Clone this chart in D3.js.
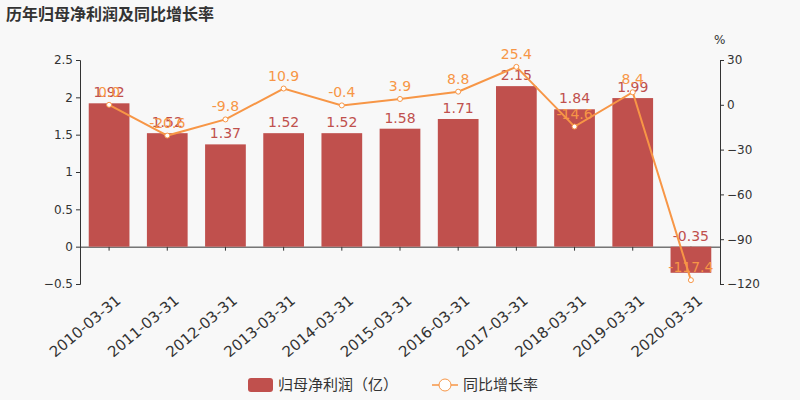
<!DOCTYPE html><html><head><meta charset="utf-8"><script src="https://cdn.jsdelivr.net/npm/d3@7"></script>
<style>body{margin:0;background:#f8f8f8}</style></head><body><svg id="c" width="800" height="400"></svg><script>
const categories=["2010-03-31","2011-03-31","2012-03-31","2013-03-31","2014-03-31","2015-03-31","2016-03-31","2017-03-31","2018-03-31","2019-03-31","2020-03-31"];
const profit=[1.92,1.52,1.37,1.52,1.52,1.58,1.71,2.15,1.84,1.99,-0.35];
const growth=[0.0,-20.6,-9.8,10.9,-0.4,3.9,8.8,25.4,-14.6,8.4,-117.4];
const leftTicks=[-0.5,0,0.5,1,1.5,2,2.5];
const rightTicks=[-120,-90,-60,-30,0,30];
const svg=d3.select("#c"),F="DejaVu Sans";
svg.append("rect").attr("width",800).attr("height",400).attr("fill","#f8f8f8");
svg.append("text").attr("x",6).attr("y",20).text("历年归母净利润及同比增长率").attr("font-family","Noto Sans CJK SC").attr("font-weight","bold").attr("font-size",16).attr("fill","#333");
const L=80,R=720,T=60,B=284;
const x=d3.scaleBand().domain(categories).range([L,R]).paddingInner(0.3).paddingOuter(0.15);
const y=d3.scaleLinear().domain([-0.5,2.5]).range([B,T]);
const y2=d3.scaleLinear().domain([-120,30]).range([B,T]);
const gl=svg.append("g").attr("transform",`translate(${L},0)`).call(d3.axisLeft(y).tickValues(leftTicks).tickFormat(d3.format("")).tickSize(4));
const gr=svg.append("g").attr("transform",`translate(${R},0)`).call(d3.axisRight(y2).tickValues(rightTicks).tickSize(4));
[gl,gr].forEach(g=>{g.selectAll("text").attr("font-family",F).attr("font-size",12).attr("fill","#333");g.selectAll("line,path").attr("stroke","#333");});
const gx=svg.append("g").attr("transform",`translate(0,${y(0)})`).call(d3.axisBottom(x).tickSize(4).tickSizeOuter(0).tickFormat(""));
gx.selectAll("line,path").attr("stroke","#333");
svg.selectAll(".xl").data(categories).enter().append("text")
 .attr("transform",d=>`translate(${x(d)+x.bandwidth()/2+6},${B+10}) rotate(-40)`)
 .attr("text-anchor","end").attr("dy","0.7em").text(d=>d).attr("font-family",F).attr("font-size",15).attr("fill","#333");
svg.append("text").attr("x",714).attr("y",44).text("%").attr("font-family",F).attr("font-size",12).attr("fill","#333");
svg.selectAll(".b").data(profit).enter().append("rect").attr("x",(d,i)=>x(categories[i])).attr("width",x.bandwidth())
 .attr("y",d=>y(Math.max(0,d))).attr("height",d=>Math.abs(y(d)-y(0))).attr("fill","#c0504d");
svg.selectAll(".bl").data(profit).enter().append("text").attr("x",(d,i)=>x(categories[i])+x.bandwidth()/2)
 .attr("y",d=>d>=0?y(d)-6:y(0)-6).attr("text-anchor","middle").text(d=>d).attr("font-family",F).attr("font-size",14).attr("fill","#c0504d");
const cx=i=>x(categories[i])+x.bandwidth()/2;
svg.append("path").datum(growth).attr("d",d3.line().x((d,i)=>cx(i)).y(d=>y2(d))).attr("fill","none").attr("stroke","#f79646").attr("stroke-width",2);
svg.selectAll(".p").data(growth).enter().append("circle").attr("cx",(d,i)=>cx(i)).attr("cy",d=>y2(d)).attr("r",2.5).attr("fill","#fff").attr("stroke","#f79646");
svg.selectAll(".pl").data(growth).enter().append("text").attr("x",(d,i)=>cx(i)).attr("y",d=>y2(d)-8).attr("text-anchor","middle").text(d=>d.toFixed(1)).attr("font-family",F).attr("font-size",14).attr("fill","#f79646");
const lg=svg.append("g");
lg.append("rect").attr("x",248).attr("y",378).attr("width",25).attr("height",14).attr("rx",3).attr("fill","#c0504d");
lg.append("text").attr("x",278).attr("y",390).text("归母净利润（亿）").attr("font-family","Noto Sans CJK SC").attr("font-size",15).attr("fill","#333");
lg.append("line").attr("x1",432).attr("x2",458).attr("y1",385).attr("y2",385).attr("stroke","#f79646").attr("stroke-width",1.5);
lg.append("circle").attr("cx",445).attr("cy",385).attr("r",6).attr("fill","#fff").attr("stroke","#f79646");
lg.append("text").attr("x",463).attr("y",390).text("同比增长率").attr("font-family","Noto Sans CJK SC").attr("font-size",15).attr("fill","#333");
</script></body></html>
